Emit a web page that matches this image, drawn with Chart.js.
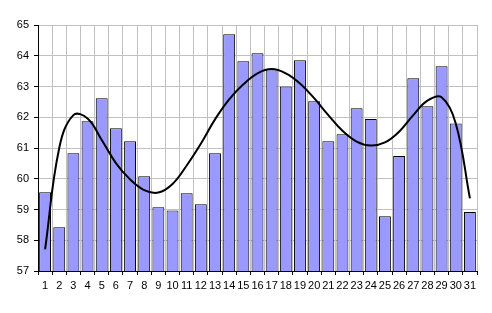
<!DOCTYPE html>
<html>
<head>
<meta charset="utf-8">
<script src="https://cdn.jsdelivr.net/npm/chart.js@4"></script>
<style>
  html, body { margin: 0; padding: 0; background: #fff; }
  #wrap { width: 492px; height: 313px; }
</style>
</head>
<body>
<div id="wrap"><canvas id="chart" width="492" height="313"></canvas></div>
<script>
const days = [
    "1", "2", "3", "4", "5", "6", "7", "8", "9", "10",
    "11", "12", "13", "14", "15", "16", "17", "18", "19", "20",
    "21", "22", "23", "24", "25", "26", "27", "28", "29", "30", "31",
];

const values = [
    59.56, 58.42, 60.83, 61.87, 62.62, 61.64, 61.22, 60.08, 59.07, 58.97,
    59.53, 59.17, 60.83, 64.70, 63.82, 64.08, 63.56, 63.00, 63.85, 62.52,
    61.22, 61.45, 62.29, 61.94, 58.78, 60.74, 63.27, 62.36, 63.66, 61.80,
    58.92,
];

// trend curve at each day
const trend = [
    57.70, 61.00, 62.07, 61.96, 61.26, 60.51, 59.98, 59.63, 59.55, 59.83,
    60.43, 61.14, 61.93, 62.58, 63.07, 63.43, 63.57, 63.43, 63.10, 62.62,
    62.07, 61.56, 61.21, 61.08, 61.18, 61.53, 62.07, 62.54, 62.65, 61.80,
    59.36,
];

const yTicks = [57, 58, 59, 60, 61, 62, 63, 64, 65];

Chart.defaults.font.family = "'Liberation Sans', Arial, sans-serif";
Chart.defaults.font.size = 11;
Chart.defaults.color = "#000";

new Chart(document.getElementById("chart").getContext("2d"), {
    type: "bar",
    data: {
        labels: days,
        datasets: [{
            type: "line",
            data: trend,
            borderColor: "#000",
            borderWidth: 2,
            pointRadius: 0,
            tension: 0.4,
            fill: false,
            order: 0,
        }, {
            type: "bar",
            data: values,
            backgroundColor: "#9999ff",
            borderColor: "#000",
            borderWidth: 1,
            barPercentage: 0.84,
            categoryPercentage: 1,
            order: 1,
        }],
    },
    options: {
        responsive: false,
        animation: false,
        layout: { padding: { left: 0, right: 15, top: 25, bottom: 0 } },
        plugins: {
            legend: { display: false },
            tooltip: { enabled: false },
        },
        scales: {
            x: {
                grid: { color: "#c0c0c0", tickColor: "#000", tickLength: 4 },
                border: { color: "#000" },
                ticks: { padding: 4, maxRotation: 0, autoSkip: false },
                afterFit: (s) => { s.height = 42; },
            },
            y: {
                min: 57,
                max: 65,
                afterBuildTicks: (s) => { s.ticks = yTicks.map(v => ({ value: v })); },
                grid: { color: "#c0c0c0", tickColor: "#000", tickLength: 4 },
                border: { color: "#000" },
                ticks: { padding: 5 },
                afterFit: (s) => { s.width = 38; },
            },
        },
    },
});
</script>
</body>
</html>
